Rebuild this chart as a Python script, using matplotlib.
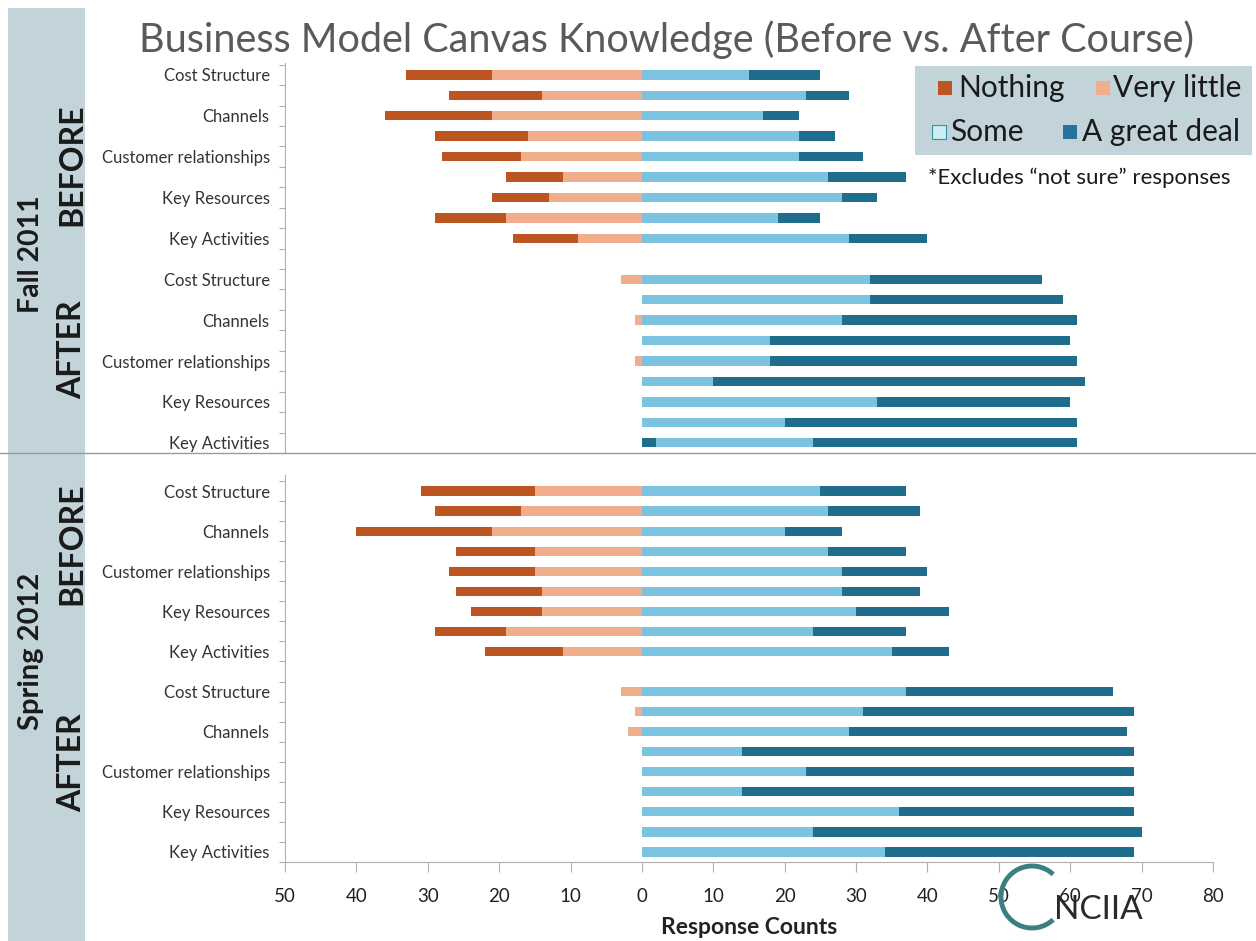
import matplotlib
matplotlib.use("Agg")
import matplotlib.pyplot as plt
from matplotlib.patches import Rectangle, Arc
from matplotlib.lines import Line2D
import numpy as np

plt.rcParams['font.family'] = ['Lato', 'DejaVu Sans']

W, H = 1256, 941

# ---------------- data ----------------
categories = ["Cost Structure", "Revenue Streams", "Channels", "Customer Segments",
              "Customer relationships", "Value Propositions", "Key Resources",
              "Key Partners", "Key Activities"]
shown_labels = ["Cost Structure", "Channels", "Customer relationships",
                "Key Resources", "Key Activities"]

fall_before_nothing = [12, 13, 15, 13, 11, 8, 8, 10, 9]
fall_before_little = [21, 14, 21, 16, 17, 11, 13, 19, 9]
fall_before_some = [15, 23, 17, 22, 22, 26, 28, 19, 29]
fall_before_great = [10, 6, 5, 5, 9, 11, 5, 6, 11]

fall_after_nothing = [0, 0, 0, 0, 0, 0, 0, 0, 0]
fall_after_little = [3, 0, 1, 0, 1, 0, 0, 0, 0]
fall_after_lead = [0, 0, 0, 0, 0, 0, 0, 0, 2]
fall_after_some = [32, 32, 28, 18, 18, 10, 33, 20, 22]
fall_after_great = [24, 27, 33, 42, 43, 52, 27, 41, 37]

spring_before_nothing = [16, 12, 19, 11, 12, 12, 10, 10, 11]
spring_before_little = [15, 17, 21, 15, 15, 14, 14, 19, 11]
spring_before_some = [25, 26, 20, 26, 28, 28, 30, 24, 35]
spring_before_great = [12, 13, 8, 11, 12, 11, 13, 13, 8]

spring_after_nothing = [0, 0, 0, 0, 0, 0, 0, 0, 0]
spring_after_little = [3, 1, 2, 0, 0, 0, 0, 0, 0]
spring_after_some = [37, 31, 29, 14, 23, 14, 36, 24, 34]
spring_after_great = [29, 38, 39, 55, 46, 55, 33, 46, 35]

x_ticks = [-50, -40, -30, -20, -10, 0, 10, 20, 30, 40, 50, 60, 70, 80]
legend_names = ["Nothing", "Very little", "Some", "A great deal"]

# ---------------- style ----------------
c_nothing = "#bd5520"
c_little = "#f0ae8c"
c_some = "#7cc3e0"
c_great = "#1e6d8c"
band_col = "#c2d4d9"
axis_col = "#b0b0b0"
bh = 0.46


def fx(x):
    return x / W


def fy(y):
    return 1 - y / H


fig = plt.figure(figsize=(W / 100, H / 100), dpi=100)

# left band
fig.add_artist(Rectangle((fx(8), 0), fx(85) - fx(8), fy(8), transform=fig.transFigure,
                         facecolor=band_col, edgecolor="none", zorder=0))

ax_left, ax_right = 285, 1213
top_ax = fig.add_axes([fx(ax_left), fy(453), fx(ax_right) - fx(ax_left), (453 - 63) / H])
bot_ax = fig.add_axes([fx(ax_left), fy(862), fx(ax_right) - fx(ax_left), (862 - 475) / H])


def draw_group(ax, offset, nothing, little, some, great, lead=None):
    y = np.arange(len(categories)) + offset
    nothing = np.array(nothing, float)
    little = np.array(little, float)
    some = np.array(some, float)
    great = np.array(great, float)
    lead = np.zeros_like(some) if lead is None else np.array(lead, float)
    ax.barh(y, -little, height=bh, color=c_little, linewidth=0)
    ax.barh(y, -nothing, left=-little, height=bh, color=c_nothing, linewidth=0)
    ax.barh(y, lead, height=bh, color=c_great, linewidth=0)
    ax.barh(y, some, left=lead, height=bh, color=c_some, linewidth=0)
    ax.barh(y, great, left=lead + some, height=bh, color=c_great, linewidth=0)


def style_axes(ax, ylim, show_x):
    ax.set_xlim(x_ticks[0], x_ticks[-1])
    ax.set_ylim(*ylim)
    for sp in ["top", "right"]:
        ax.spines[sp].set_visible(False)
    ax.spines["left"].set_color(axis_col)
    ax.spines["bottom"].set_color(axis_col)
    ax.spines["bottom"].set_visible(show_x)
    pos, labs = [], []
    for offset in (0, 10):
        for i, c in enumerate(categories):
            if c in shown_labels:
                pos.append(i + offset)
                labs.append(c)
    ax.set_yticks(pos)
    ax.set_yticklabels(labs, fontsize=12, color="#333333")
    ax.tick_params(axis="y", which="major", length=0, pad=11)
    ax.set_yticks(np.arange(-0.5, 19, 1), minor=True)
    ax.tick_params(axis="y", which="minor", length=4, color=axis_col, width=0.8)
    if show_x:
        ax.set_xticks(x_ticks)
        ax.set_xticklabels([str(abs(v)) for v in x_ticks], fontsize=13.5, color="#222222")
        ax.tick_params(axis="x", length=7, color=axis_col, pad=12, direction="out")
    else:
        ax.set_xticks([])
    ax.set_facecolor("none")


draw_group(top_ax, 0, fall_before_nothing, fall_before_little, fall_before_some, fall_before_great)
draw_group(top_ax, 10, fall_after_nothing, fall_after_little, fall_after_some, fall_after_great,
           fall_after_lead)
draw_group(bot_ax, 0, spring_before_nothing, spring_before_little, spring_before_some,
           spring_before_great)
draw_group(bot_ax, 10, spring_after_nothing, spring_after_little, spring_after_some,
           spring_after_great)

style_axes(top_ax, (18.22, -0.58), False)
style_axes(bot_ax, (18.49, -0.80), True)

# separator line across full width
fig.add_artist(Line2D([0, 1], [fy(453), fy(453)], transform=fig.transFigure,
                      color="#9a9a9a", lw=1.0, zorder=2))

# title
fig.text(fx(666), fy(40), "Business Model Canvas Knowledge (Before vs. After Course)",
         ha="center", va="center", fontsize=28.5, color="#5a5a5a")

# band labels
band_kw = dict(rotation=90, ha="center", va="center", fontweight="bold", color="#1a1a1a")
fig.text(fx(31), fy(254), "Fall 2011", fontsize=20.5, **band_kw)
fig.text(fx(72), fy(165), "BEFORE", fontsize=23, **band_kw)
fig.text(fx(72), fy(350), "AFTER", fontsize=23, **band_kw)
fig.text(fx(31), fy(651), "Spring 2012", fontsize=21, **band_kw)
fig.text(fx(72), fy(544), "BEFORE", fontsize=23, **band_kw)
fig.text(fx(72), fy(763), "AFTER", fontsize=23, **band_kw)

# x axis title
fig.text(fx(749), fy(928), "Response Counts", ha="center", va="center",
         fontsize=16.5, fontweight="bold", color="#222222")

# legend
fig.add_artist(Rectangle((fx(915), fy(155)), fx(1252) - fx(915), (155 - 66) / H,
                         transform=fig.transFigure, facecolor=band_col, edgecolor="none",
                         zorder=5))
leg_items = [
    (legend_names[0], 938, 88, c_nothing, "none", 958),
    (legend_names[1], 1096, 88, c_little, "none", 1113),
    (legend_names[2], 932, 132, "#c9eef4", "#3a8fa8", 950),
    (legend_names[3], 1063, 132, "#22739e", "none", 1082),
]
for name, sx, sy, fc, ec, tx in leg_items:
    fig.add_artist(Rectangle((fx(sx), fy(sy + 7)), 14 / W, 14 / H, transform=fig.transFigure,
                             facecolor=fc, edgecolor=ec, lw=0.8, zorder=6))
    fig.text(fx(tx), fy(sy), name, ha="left", va="center", fontsize=21.5,
             color="#1a1a1a", zorder=7)

fig.text(fx(928), fy(178), "*Excludes \u201cnot sure\u201d responses", ha="left",
         va="center", fontsize=16, color="#1a1a1a")

# NCIIA logo
fig.add_artist(Arc((fx(1032), fy(897)), 62 / W, 62 / H, theta1=55, theta2=305,
                   transform=fig.transFigure, color="#3b7f80", lw=3.5, zorder=6))
fig.text(fx(1098), fy(910), "NCIIA", ha="center", va="center", fontsize=24,
         color="#2a2a2a", zorder=7)

fig.savefig("out.png", dpi=100)
